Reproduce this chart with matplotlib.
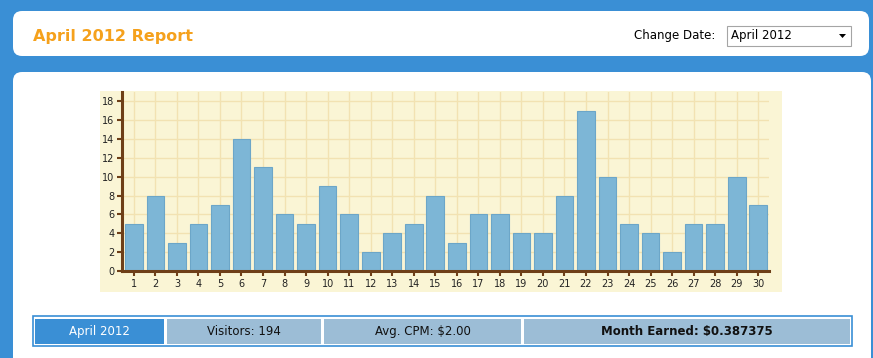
import matplotlib
matplotlib.use("Agg")
import matplotlib.pyplot as plt
from matplotlib.patches import FancyBboxPatch, Rectangle, Polygon

# daily visitors, April 2012
days = list(range(1, 31))
visitors = [5, 8, 3, 5, 7, 14, 11, 6, 5, 9, 6, 2, 4, 5, 8,
            3, 6, 6, 4, 4, 8, 17, 10, 5, 4, 2, 5, 5, 10, 7]
y_ticks = list(range(0, 19, 2))

title = "April 2012 Report"
month = "April 2012"
summary = ["April 2012", "Visitors: 194", "Avg. CPM: $2.00", "Month Earned: $0.387375"]

W, H = 873, 358
BLUE = "#3a8fd5"
BROWN = "#6e3f18"
YELLOW = "#faf5d5"
GRID = "#f2e2b2"
BAR = "#7db6d6"

fig = plt.figure(figsize=(W / 100, H / 100), dpi=100)
fig.patch.set_facecolor(BLUE)

# page layer in pixel coordinates (origin top-left)
bg = fig.add_axes([0, 0, 1, 1], zorder=0)
bg.set_xlim(0, W)
bg.set_ylim(H, 0)
bg.axis("off")


def rbox(x0, y0, x1, y1, r, **kw):
    bg.add_patch(FancyBboxPatch((x0 + r, y0 + r), x1 - x0 - 2 * r, y1 - y0 - 2 * r,
                                boxstyle="round,pad=%d" % r, **kw))


def box(x0, y0, x1, y1, **kw):
    bg.add_patch(Rectangle((x0, y0), x1 - x0, y1 - y0, **kw))


# white panels
rbox(13, 11, 869, 56, 9, facecolor="white", edgecolor="none")
rbox(13, 72, 871, 400, 9, facecolor="white", edgecolor="none")

# header
bg.text(33, 37, title, color="#f5a11c", fontsize=11.5, fontweight="bold",
        family="DejaVu Sans", va="center", ha="left")
bg.text(634, 36, "Change Date:", color="black", fontsize=8.5,
        family="DejaVu Sans", va="center", ha="left")
box(727, 26, 851, 46, facecolor="white", edgecolor="#a5a5a5", lw=0.8)
bg.text(731, 36, month, color="black", fontsize=8.5,
        family="DejaVu Sans", va="center", ha="left")
bg.add_patch(Polygon([(839, 34), (846, 34), (842.5, 38)], closed=True,
                     facecolor="black", edgecolor="none"))

# chart background
box(100, 91, 782, 292, facecolor=YELLOW, edgecolor="none")

# summary table
box(33, 316, 852, 346, facecolor="white", edgecolor=BLUE, lw=1.2)
cells = [(35, 164), (167, 321), (324, 521), (524, 850)]
colors = [BLUE, "#9cbdd6", "#9cbdd6", "#9cbdd6"]
for i, ((x0, x1), label) in enumerate(zip(cells, summary)):
    box(x0, 319, x1, 344, facecolor=colors[i], edgecolor="none")
    bg.text((x0 + x1) / 2, 331.5, label, ha="center", va="center",
            fontsize=8.5, family="DejaVu Sans",
            color="white" if i == 0 else "#111111",
            fontweight="bold" if i == 3 else "normal")

# bar chart
ax = fig.add_axes([122 / W, 1 - 271 / H, (769 - 122) / W, (271 - 92) / H], zorder=1)
ax.set_facecolor(YELLOW)
ax.bar(days, visitors, width=0.82, color=BAR, edgecolor="#6ca6c8", linewidth=0.8, zorder=3)
ax.set_xlim(0.45, 30.5)
ax.set_ylim(0, 19)
ax.set_xticks(days)
ax.set_yticks(y_ticks)
ax.grid(True, color=GRID, linewidth=1, zorder=0)
ax.set_axisbelow(True)
for s in ["top", "right"]:
    ax.spines[s].set_visible(False)
for s in ["left", "bottom"]:
    ax.spines[s].set_color(BROWN)
    ax.spines[s].set_linewidth(2.2)
    ax.spines[s].set_zorder(4)
ax.tick_params(axis="both", colors=BROWN, width=1.5, length=3.5, labelsize=7,
               labelcolor="#222222", pad=2)

fig.savefig("out.png", dpi=100, facecolor=BLUE)
